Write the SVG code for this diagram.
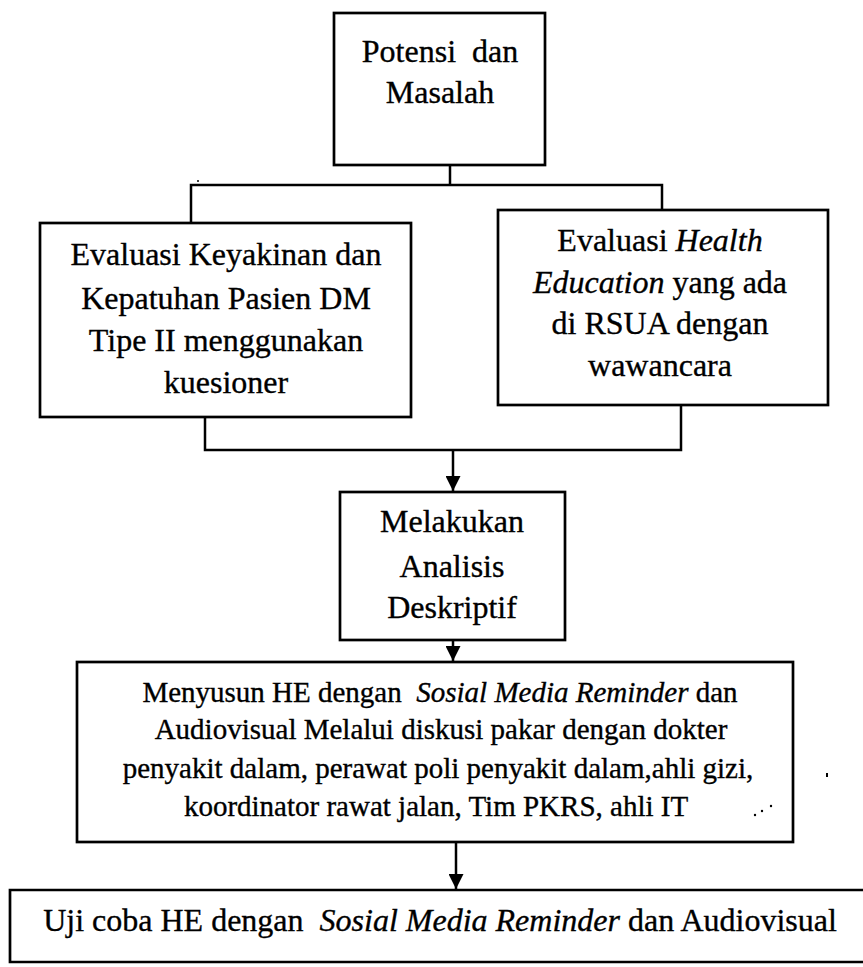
<svg xmlns="http://www.w3.org/2000/svg" width="863" height="967" viewBox="0 0 863 967">
  <style>
    .box { fill: #fff; stroke: #000; stroke-width: 2.7; }
    .ln { fill: none; stroke: #000; stroke-width: 2.5; }
    text { font-family: "Liberation Serif", "Times New Roman", serif; font-size: 32px; fill: #000; stroke: #000; stroke-width: 0.35; text-anchor: middle; }
    .sm { font-size: 29px; }
    .it { font-style: italic; }
    .speck { fill: #000; }
  </style>
  <defs>
    <marker id="ah" markerWidth="16" markerHeight="15" refX="15" refY="7.5" orient="auto" markerUnits="userSpaceOnUse">
      <path d="M0,0 L15,7.5 L0,15 z" fill="#000"/>
    </marker>
  </defs>
  <rect width="863" height="967" fill="#fff"/>

  <!-- connectors -->
  <g id="connectors">
    <path class="ln" d="M450 165 V185"/>
    <path class="ln" d="M191 223 V185 H662 V210"/>
    <path class="ln" d="M205 417 V450 H681 V405"/>
    <path class="ln" d="M453 450 V491" marker-end="url(#ah)"/>
    <path class="ln" d="M453 640 V661" marker-end="url(#ah)"/>
    <path class="ln" d="M456 842 V889" marker-end="url(#ah)"/>
  </g>

  <g id="potensi">
    <rect class="box" x="334" y="13" width="211" height="152"/>
    <text x="440" y="62">Potensi&#160; dan</text>
    <text x="440" y="103">Masalah</text>
  </g>

  <g id="evaluasi-keyakinan">
    <rect class="box" x="40" y="223" width="371" height="194"/>
    <text x="226" y="265">Evaluasi Keyakinan dan</text>
    <text x="226" y="309">Kepatuhan Pasien DM</text>
    <text x="226" y="351">Tipe II menggunakan</text>
    <text x="226" y="393">kuesioner</text>
  </g>

  <g id="evaluasi-he">
    <rect class="box" x="498" y="210" width="330" height="195"/>
    <text x="660" y="251">Evaluasi <tspan class="it">Health</tspan></text>
    <text x="660" y="293"><tspan class="it">Education</tspan> yang ada</text>
    <text x="660" y="334">di RSUA dengan</text>
    <text x="660" y="376">wawancara</text>
  </g>

  <g id="analisis">
    <rect class="box" x="340" y="492" width="225" height="148"/>
    <text x="452" y="532">Melakukan</text>
    <text x="452" y="577">Analisis</text>
    <text x="452" y="618">Deskriptif</text>
  </g>

  <g id="menyusun">
    <rect class="box" x="77" y="662" width="716" height="180"/>
    <text class="sm" x="440" y="702">Menyusun HE dengan&#160; <tspan class="it">Sosial Media Reminder</tspan> dan</text>
    <text class="sm" x="441" y="739">Audiovisual Melalui diskusi pakar dengan dokter</text>
    <text class="sm" x="438" y="778">penyakit dalam, perawat poli penyakit dalam,ahli gizi,</text>
    <text class="sm" x="436" y="816">koordinator rawat jalan, Tim PKRS, ahli IT</text>
    <!-- stray marks near the box corner -->
    <circle class="speck" cx="755" cy="815" r="1.2"/>
    <circle class="speck" cx="762" cy="811" r="1.2"/>
    <circle class="speck" cx="771" cy="806" r="1.2"/>
  </g>
  <rect class="speck" x="826" y="773" width="2" height="4"/>
  <circle class="speck" cx="198" cy="181" r="1"/>

  <g id="uji-coba">
    <path class="box" d="M870 890 H10 V962 H870"/>
    <text x="440" y="931">Uji coba HE dengan&#160; <tspan class="it">Sosial Media Reminder</tspan> dan Audiovisual</text>
  </g>
</svg>
